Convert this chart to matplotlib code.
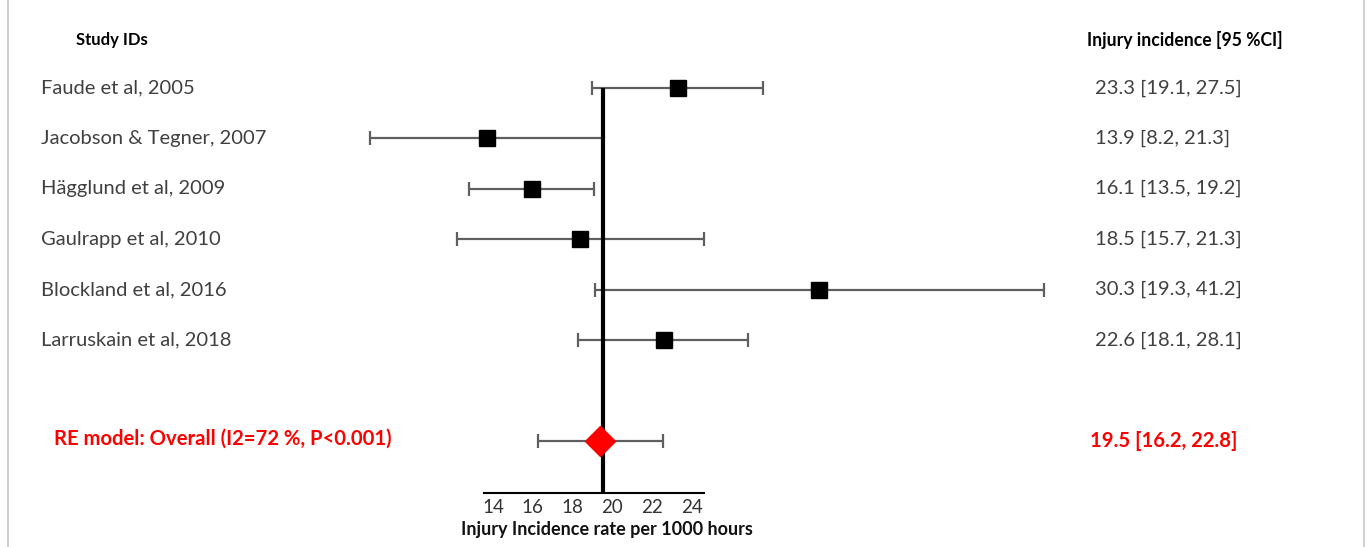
import matplotlib
matplotlib.use("Agg")
import matplotlib.pyplot as plt
from matplotlib.lines import Line2D

plt.rcParams['font.family'] = ['Lato', 'DejaVu Sans']

# ---- data (positions, labels as printed) ----
studies = ["Faude et al, 2005", "Jacobson & Tegner, 2007", "Hägglund et al, 2009",
           "Gaulrapp et al, 2010", "Blockland et al, 2016", "Larruskain et al, 2018"]
est = [23.30, 13.70, 15.96, 18.37, 30.38, 22.59]
ci_lo = [18.97, 7.82, 12.79, 12.19, 19.13, 18.27]
ci_hi = [27.57, 19.53, 19.08, 24.60, 41.69, 26.81]
value_labels = ["23.3 [19.1, 27.5]", "13.9 [8.2, 21.3]", "16.1 [13.5, 19.2]",
                "18.5 [15.7, 21.3]", "30.3 [19.3, 41.2]", "22.6 [18.1, 28.1]"]

overall_name = "RE model: Overall (I2=72 %, P<0.001)"
overall_est = 19.38
overall_lo = 16.26
overall_hi = 22.54
overall_label = "19.5 [16.2, 22.8]"
ref_line = 19.55

tick_values = [14, 16, 18, 20, 22, 24]
tick_labels = ["14", "16", "18", "20", "22", "24"]
axis_span = (13.55, 24.6)

W, H = 1368, 547
fig = plt.figure(figsize=(W / 100, H / 100), dpi=100)

# axes bottom sits at the axis line (pixel row 493)
ax_bottom_px = 493
ax = fig.add_axes([0, (H - ax_bottom_px) / H, 1, ax_bottom_px / H])
px_per_unit = 19.9
x0_val = 14 - 493 / px_per_unit
x1_val = 14 + (W - 493) / px_per_unit
ax.set_xlim(x0_val, x1_val)
row_px0, row_step = 88, 50.4
y_bottom = (ax_bottom_px - row_px0) / row_step
ax.set_ylim(y_bottom, -row_px0 / row_step)

for s in ['top', 'right', 'left']:
    ax.spines[s].set_visible(False)
ax.spines['bottom'].set_bounds(*axis_span)
ax.spines['bottom'].set_linewidth(1.5)
ax.set_yticks([])
ax.set_xticks(tick_values)
ax.set_xticklabels(tick_labels)
ax.tick_params(axis='x', length=0, pad=4, labelsize=13.5, colors='#333333')
ax.set_xlabel("Injury Incidence rate per 1000 hours", fontsize=13, fontweight='bold',
              color='#111111')
ax.xaxis.set_label_coords(607 / W, -0.057)

err_color = '#5f5f5f'
rows = list(range(len(studies)))
overall_row = 7

# reference line
ax.vlines(ref_line, 0, y_bottom, color='black', lw=3, zorder=2)

# study CIs and markers
for i in rows:
    ax.errorbar(est[i], i, xerr=[[est[i] - ci_lo[i]], [ci_hi[i] - est[i]]],
                fmt='none', ecolor=err_color, elinewidth=1.6, capsize=5, capthick=1.6, zorder=1)
ax.plot(est, rows, 's', color='black', markersize=11.5, zorder=3)

# overall
ax.errorbar(overall_est, overall_row,
            xerr=[[overall_est - overall_lo], [overall_hi - overall_est]],
            fmt='none', ecolor=err_color, elinewidth=1.6, capsize=5, capthick=1.6, zorder=1)
ax.plot([overall_est], [overall_row], 'D', color='red', markersize=15.5, zorder=4)

# texts
left_x = 14 + (41 - 493) / px_per_unit
right_x = 14 + (1095 - 493) / px_per_unit
ax.text(14 + (76 - 493) / px_per_unit, (40 - row_px0) / row_step, "Study IDs",
        fontsize=12, fontweight='bold', ha='left', va='center', color='black')
ax.text(14 + (1087 - 493) / px_per_unit, (40 - row_px0) / row_step, "Injury incidence [95 %CI]",
        fontsize=12.7, fontweight='bold', ha='left', va='center', color='black')
for i in rows:
    ax.text(left_x, i, studies[i], fontsize=14.5, ha='left', va='center', color='#404040')
    ax.text(right_x, i, value_labels[i], fontsize=14.5, ha='left', va='center', color='#404040')
ax.text(14 + (54 - 493) / px_per_unit, overall_row - 0.05, overall_name, fontsize=14.6,
        fontweight='bold', ha='left', va='center', color='red')
ax.text(14 + (1090 - 493) / px_per_unit, overall_row, overall_label, fontsize=14.6,
        fontweight='bold', ha='left', va='center', color='red')

# light frame lines at left and right edges
fig.add_artist(Line2D([8 / W, 8 / W], [0, 1], color='#d0d0d0', lw=1.5))
fig.add_artist(Line2D([1364 / W, 1364 / W], [0, 1], color='#d0d0d0', lw=1.5))

fig.savefig("out.png", dpi=100)
